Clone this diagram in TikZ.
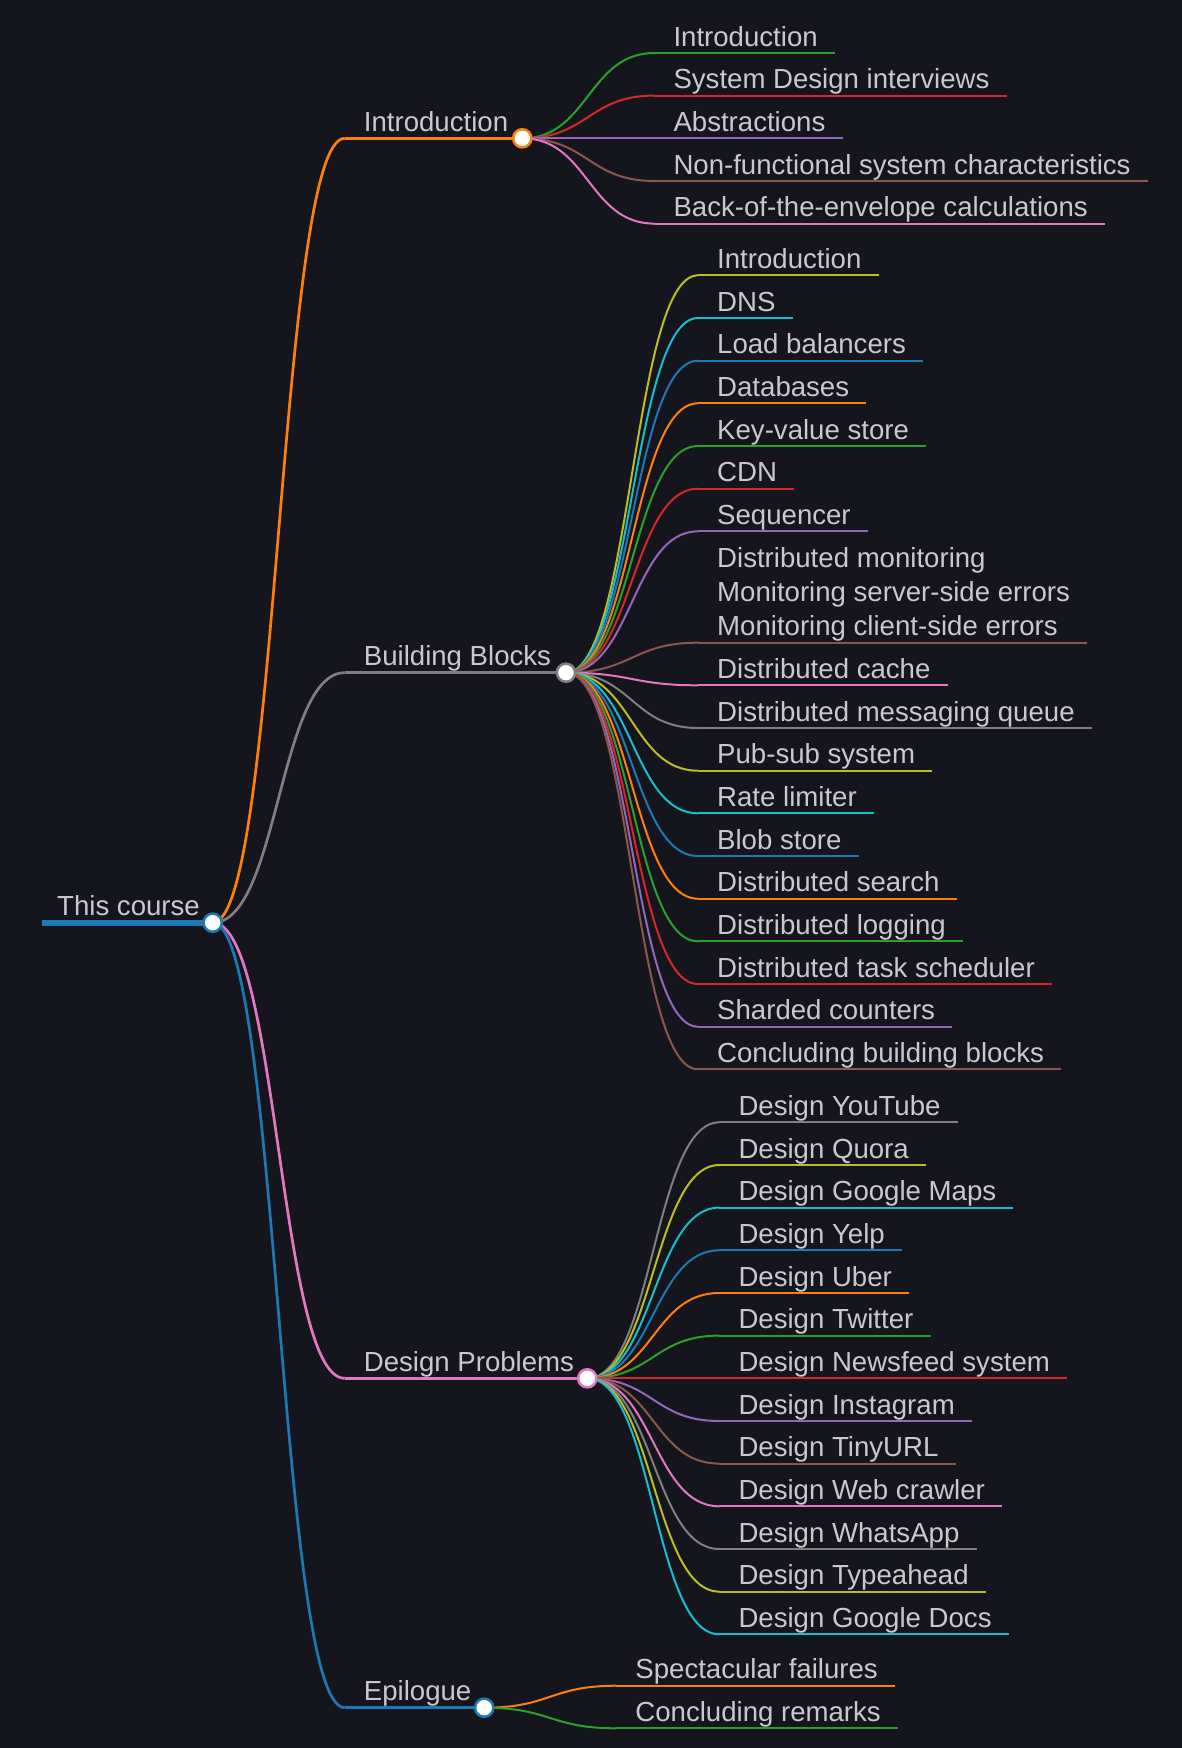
\documentclass[tikz,border=0pt]{standalone}
\usepackage{fontspec}
\setmainfont{Liberation Sans}
\usetikzlibrary{calc}
\definecolor{bgc}{HTML}{15161D}
\definecolor{txt}{HTML}{C9C9CD}
\definecolor{cA}{HTML}{1F77B4}
\definecolor{cB}{HTML}{FF7F0E}
\definecolor{cC}{HTML}{2CA02C}
\definecolor{cD}{HTML}{D62728}
\definecolor{cE}{HTML}{9467BD}
\definecolor{cF}{HTML}{8C564B}
\definecolor{cG}{HTML}{E377C2}
\definecolor{cH}{HTML}{7F7F7F}
\definecolor{cI}{HTML}{BCBD22}
\definecolor{cJ}{HTML}{17BECF}
\tikzset{
  lbl/.style={inner sep=0pt, text=txt, font=\fontsize{27.6}{33}\selectfont, anchor=base west},
  leafline/.style={line width=2pt},
  topline/.style={line width=2.7pt},
  dot/.style={circle, fill=white, minimum size=18.2pt, inner sep=0pt, line width=2.5pt},
}
% leaf: name, colour, x start, y, text
\newcommand\mmleaf[5]{%
  \coordinate (#1-s) at (#3,#4);
  \node[lbl] (#1-t) at (#3+19,#4-7) {#5};
  \draw[leafline,#2] (#1-s) -- ($(#1-t.east |- #1-s)+(17,0)$) coordinate (#1-e);
}
% branch: name, colour, x start, y, text, x end
\newcommand\mmbranch[6]{%
  \coordinate (#1-s) at (#3,#4);
  \coordinate (#1-e) at (#6,#4);
  \node[lbl] (#1-t) at (#3+19,#4-7) {#5};
  \draw[topline,#2] (#1-s) -- (#1-e);
}
\newcommand\mmlink[3]{%
  \draw[#1] let \p1=(#2), \p2=(#3) in
    (\p1) .. controls ({0.5*\x1+0.5*\x2},\y1) and ({0.5*\x1+0.5*\x2},\y2) .. (\p2);
}
\begin{document}
\begin{tikzpicture}[x=1pt,y=-1pt]
\useasboundingbox (0,0) rectangle (1182,1748);
\fill[bgc] (0,0) rectangle (1182,1748);

% root
\coordinate (root-s) at (41.7,922.7);
\coordinate (root-e) at (212.7,922.7);
\node[lbl] (root-t) at (57,915.5) {This course};
\draw[line width=6pt,cA] (root-s) -- (root-e);

% level 1
\mmbranch{intro}{cB}{344.7}{138.3}{Introduction}{522.3}
\mmbranch{bb}{cH}{344.7}{672.7}{Building Blocks}{566}
\mmbranch{dp}{cG}{344.7}{1378.3}{Design Problems}{587.3}
\mmbranch{epi}{cA}{344.7}{1707.7}{Epilogue}{484.2}

% Introduction children
\mmleaf{i1}{cC}{654.3}{53.0}{Introduction}
\mmleaf{i2}{cD}{654.3}{95.6}{System Design interviews}
\mmleaf{i3}{cE}{654.3}{138.3}{Abstractions}
\mmleaf{i4}{cF}{654.3}{181.0}{Non-functional system characteristics}
\mmleaf{i5}{cG}{654.3}{223.6}{Back-of-the-envelope calculations}

% Building Blocks children
\mmleaf{b1}{cI}{698}{275.3}{Introduction}
\mmleaf{b2}{cJ}{698}{318.0}{DNS}
\mmleaf{b3}{cA}{698}{360.7}{Load balancers}
\mmleaf{b4}{cB}{698}{403.3}{Databases}
\mmleaf{b5}{cC}{698}{446.0}{Key-value store}
\mmleaf{b6}{cD}{698}{488.7}{CDN}
\mmleaf{b7}{cE}{698}{531.3}{Sequencer}
% multi-line node
\coordinate (b8-s) at (698,642.7);
\node[lbl] (b8-ta) at (717,567.7) {Distributed monitoring};
\node[lbl] (b8-tb) at (717,601.7) {Monitoring server-side errors};
\node[lbl] (b8-tc) at (717,635.7) {Monitoring client-side errors};
\draw[leafline,cF] (b8-s) -- ($(b8-tb.east |- b8-s)+(17,0)$) coordinate (b8-e);
\mmleaf{b9}{cG}{698}{685.3}{Distributed cache}
\mmleaf{b10}{cH}{698}{728.0}{Distributed messaging queue}
\mmleaf{b11}{cI}{698}{770.7}{Pub-sub system}
\mmleaf{b12}{cJ}{698}{813.3}{Rate limiter}
\mmleaf{b13}{cA}{698}{856.0}{Blob store}
\mmleaf{b14}{cB}{698}{898.7}{Distributed search}
\mmleaf{b15}{cC}{698}{941.3}{Distributed logging}
\mmleaf{b16}{cD}{698}{984.0}{Distributed task scheduler}
\mmleaf{b17}{cE}{698}{1026.7}{Sharded counters}
\mmleaf{b18}{cF}{698}{1069.3}{Concluding building blocks}

% Design Problems children
\mmleaf{d1}{cH}{719.3}{1122.3}{Design YouTube}
\mmleaf{d2}{cI}{719.3}{1165.0}{Design Quora}
\mmleaf{d3}{cJ}{719.3}{1207.6}{Design Google Maps}
\mmleaf{d4}{cA}{719.3}{1250.3}{Design Yelp}
\mmleaf{d5}{cB}{719.3}{1293.0}{Design Uber}
\mmleaf{d6}{cC}{719.3}{1335.6}{Design Twitter}
\mmleaf{d7}{cD}{719.3}{1378.3}{Design Newsfeed system}
\mmleaf{d8}{cE}{719.3}{1421.0}{Design Instagram}
\mmleaf{d9}{cF}{719.3}{1463.6}{Design TinyURL}
\mmleaf{d10}{cG}{719.3}{1506.3}{Design Web crawler}
\mmleaf{d11}{cH}{719.3}{1549.0}{Design WhatsApp}
\mmleaf{d12}{cI}{719.3}{1591.6}{Design Typeahead}
\mmleaf{d13}{cJ}{719.3}{1634.3}{Design Google Docs}

% Epilogue children
\mmleaf{e1}{cB}{616.2}{1685.7}{Spectacular failures}
\mmleaf{e2}{cC}{616.2}{1728.3}{Concluding remarks}

% links from root
\mmlink{topline,cB}{root-e}{intro-s}
\mmlink{topline,cH}{root-e}{bb-s}
\mmlink{topline,cG}{root-e}{dp-s}
\mmlink{topline,cA}{root-e}{epi-s}

% links Introduction
\mmlink{leafline,cC}{intro-e}{i1-s}
\mmlink{leafline,cD}{intro-e}{i2-s}
\mmlink{leafline,cE}{intro-e}{i3-s}
\mmlink{leafline,cF}{intro-e}{i4-s}
\mmlink{leafline,cG}{intro-e}{i5-s}

% links Building Blocks
\mmlink{leafline,cI}{bb-e}{b1-s}
\mmlink{leafline,cJ}{bb-e}{b2-s}
\mmlink{leafline,cA}{bb-e}{b3-s}
\mmlink{leafline,cB}{bb-e}{b4-s}
\mmlink{leafline,cC}{bb-e}{b5-s}
\mmlink{leafline,cD}{bb-e}{b6-s}
\mmlink{leafline,cE}{bb-e}{b7-s}
\mmlink{leafline,cF}{bb-e}{b8-s}
\mmlink{leafline,cG}{bb-e}{b9-s}
\mmlink{leafline,cH}{bb-e}{b10-s}
\mmlink{leafline,cI}{bb-e}{b11-s}
\mmlink{leafline,cJ}{bb-e}{b12-s}
\mmlink{leafline,cA}{bb-e}{b13-s}
\mmlink{leafline,cB}{bb-e}{b14-s}
\mmlink{leafline,cC}{bb-e}{b15-s}
\mmlink{leafline,cD}{bb-e}{b16-s}
\mmlink{leafline,cE}{bb-e}{b17-s}
\mmlink{leafline,cF}{bb-e}{b18-s}

% links Design Problems
\mmlink{leafline,cH}{dp-e}{d1-s}
\mmlink{leafline,cI}{dp-e}{d2-s}
\mmlink{leafline,cJ}{dp-e}{d3-s}
\mmlink{leafline,cA}{dp-e}{d4-s}
\mmlink{leafline,cB}{dp-e}{d5-s}
\mmlink{leafline,cC}{dp-e}{d6-s}
\mmlink{leafline,cD}{dp-e}{d7-s}
\mmlink{leafline,cE}{dp-e}{d8-s}
\mmlink{leafline,cF}{dp-e}{d9-s}
\mmlink{leafline,cG}{dp-e}{d10-s}
\mmlink{leafline,cH}{dp-e}{d11-s}
\mmlink{leafline,cI}{dp-e}{d12-s}
\mmlink{leafline,cJ}{dp-e}{d13-s}

% links Epilogue
\mmlink{leafline,cB}{epi-e}{e1-s}
\mmlink{leafline,cC}{epi-e}{e2-s}

% circles
\node[dot,draw=cA] (root-c) at (root-e) {};
\node[dot,draw=cB] (intro-c) at (intro-e) {};
\node[dot,draw=cH] (bb-c) at (bb-e) {};
\node[dot,draw=cG] (dp-c) at (dp-e) {};
\node[dot,draw=cA] (epi-c) at (epi-e) {};
\end{tikzpicture}
\end{document}
